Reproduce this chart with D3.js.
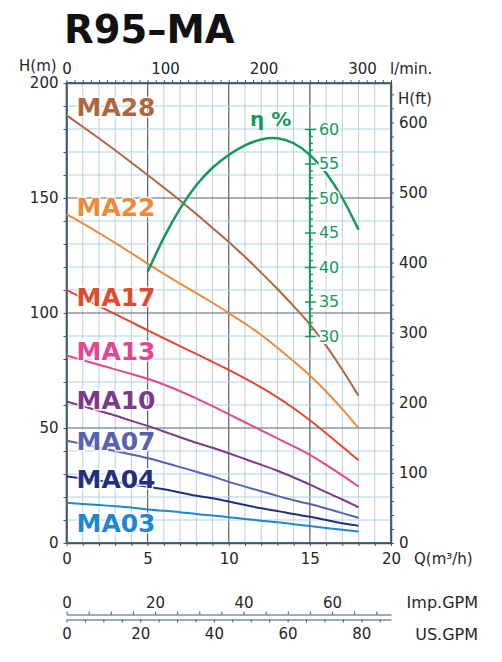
<!DOCTYPE html>
<html lang="en">
<head>
<meta charset="UTF-8">
<title>R95-MA</title>
<script src="https://d3js.org/d3.v7.min.js"></script>
<style>
  body { margin: 0; background: #fff; }
  text { font-family: "DejaVu Sans", "Liberation Sans", Arial, sans-serif; fill: #262626; }
  .axis text { font-size: 15px; }
  .axis line, .axis path { stroke: #3d5a6c; }
</style>
</head>
<body>
<script>
// flow points in m3/h
var flow = [0, 1, 2, 3, 4, 5, 6, 7, 8, 9, 10, 11, 12, 13, 14, 15, 16, 17, 18];

// head in m for each model
var ma28 = [186, 181, 176, 170.8, 165.5, 160, 154.5, 149, 143, 137, 131, 124.5, 117.5, 110.5, 103, 95.3, 86, 75.5, 64];
var ma22 = [143, 139, 134.8, 130.5, 126, 121.5, 117, 112.8, 108.7, 104.5, 100, 95.5, 90.5, 85, 79, 73, 66, 58.3, 50];
var ma17 = [110, 106.5, 103, 99.5, 96, 92.5, 89, 85.6, 82.2, 78.8, 75.3, 71.6, 67.7, 63.4, 58.7, 53.4, 47.7, 41.9, 36];
var ma13 = [81.5, 79.5, 77.5, 75.5, 73.5, 71.5, 69, 66, 63, 59.5, 56, 52.5, 49, 45.5, 42, 38.5, 34, 29.5, 24.5];
var ma10 = [61.5, 59.5, 57.5, 55.5, 53, 51, 48.5, 46, 43.5, 41.5, 39, 36.5, 34, 31.5, 28.5, 25.5, 22, 19, 15.5];
var ma07 = [44.5, 43, 41.5, 40, 38.5, 37, 35, 33, 31, 29, 26.5, 24.5, 22.5, 20.5, 18.5, 17, 15, 13, 11];
var ma04 = [29, 28, 27, 26.5, 25.5, 24.5, 23.5, 22, 20.5, 19.5, 18, 16.5, 15, 14, 12.5, 11.5, 10, 8.5, 7.5];
var ma03 = [17.5, 17, 16.5, 16, 15.5, 14.5, 14, 13.5, 12.5, 12, 11.2, 10.5, 9.7, 9, 8.2, 7.4, 6.5, 5.7, 5];

var models = ["MA28", "MA22", "MA17", "MA13", "MA10", "MA07", "MA04", "MA03"];
var heads = [ma28, ma22, ma17, ma13, ma10, ma07, ma04, ma03];

// efficiency curve
var etaFlow = [5, 6, 7, 8, 9, 10, 11, 12, 13, 14, 15, 16, 17, 18];
var eta = [39.3, 44.4, 48.6, 52, 54.5, 56.3, 57.7, 58.6, 58.8, 58.1, 56.4, 53.8, 50.2, 45.4];

// tick labels
var headTicks = [0, 50, 100, 150, 200];
var flowTicks = [0, 5, 10, 15, 20];
var lminTicks = [0, 100, 200, 300];
var ftTicks = [0, 100, 200, 300, 400, 500, 600];
var etaTicks = [30, 35, 40, 45, 50, 55, 60];
var impTicks = [0, 20, 40, 60];
var usTicks = [0, 20, 40, 60, 80];

var colors = {
    MA28: "#b0653d", MA22: "#ee8a3a", MA17: "#e04a2d", MA13: "#e2488f",
    MA10: "#7c3a88", MA07: "#5862ae", MA04: "#23307b", MA03: "#1f87cf"
};
var green = "#15995a";
// label centre (in m) relative to the curve start
var labelShift = { MA28: 3.6, MA22: 3, MA17: -3, MA13: 2, MA10: 0.5, MA07: 0, MA04: -1, MA03: -9 };

var width = 502, height = 662;
var svg = d3.select("body").append("svg")
    .attr("width", width)
    .attr("height", height);

var x = d3.scaleLinear().domain([0, 20]).range([66.5, 391]);
var y = d3.scaleLinear().domain([0, 200]).range([543, 83]);
var yFt = d3.scaleLinear().domain([0, 200 / 0.3048]).range([543, 83]);
var yEta = d3.scaleLinear().domain([0, 200 / 3]).range([543, 83]);
var xLmin = d3.scaleLinear().domain([0, 300]).range([66.5, 362]);
var xImp = d3.scaleLinear().domain([0, 20 * 3.6662]).range([66.5, 391]);
var xUs = d3.scaleLinear().domain([0, 20 * 4.4029]).range([66.5, 391]);

// title
svg.append("text")
    .attr("x", 64).attr("y", 43)
    .style("font-size", "38.5px").style("font-weight", "bold").style("fill", "#111")
    .text("R95\u2013MA");

// grid
var grid = svg.append("g");
grid.selectAll(".vminor").data(d3.range(0, 21)).enter().append("line")
    .attr("x1", function(d) { return x(d); }).attr("x2", function(d) { return x(d); })
    .attr("y1", y(0)).attr("y2", y(200))
    .attr("stroke", function(d) { return d % 5 === 0 ? "#56626b" : "#b2d2e5"; })
    .attr("stroke-width", function(d) { return d % 5 === 0 ? 1.2 : 1; });
grid.selectAll(".hminor").data(d3.range(0, 201, 10)).enter().append("line")
    .attr("x1", x(0)).attr("x2", x(20))
    .attr("y1", function(d) { return y(d); }).attr("y2", function(d) { return y(d); })
    .attr("stroke", function(d) { return d % 50 === 0 ? "#56626b" : "#b2d2e5"; })
    .attr("stroke-width", function(d) { return d % 50 === 0 ? 1.2 : 1; });
grid.append("rect")
    .attr("x", x(0)).attr("y", y(200))
    .attr("width", x(20) - x(0)).attr("height", y(0) - y(200))
    .attr("fill", "none").attr("stroke", "#3d5a6c").attr("stroke-width", 1.5);

// axes
svg.append("g").attr("class", "axis").attr("transform", "translate(" + x(0) + ",0)")
    .call(d3.axisLeft(y).tickValues(d3.range(0, 201, 10)).tickSize(3).tickPadding(5).tickSizeOuter(0)
        .tickFormat(function(d) { return headTicks.indexOf(d) >= 0 ? d : ""; }));

svg.append("g").attr("class", "axis").attr("transform", "translate(0," + y(0) + ")")
    .call(d3.axisBottom(x).tickValues(d3.range(0, 20.01, 1)).tickSize(3).tickPadding(7).tickSizeOuter(0)
        .tickFormat(function(d) { return flowTicks.indexOf(d) >= 0 ? d : ""; }));

svg.append("g").attr("class", "axis").attr("transform", "translate(0," + y(200) + ")")
    .call(d3.axisTop(x).tickValues(d3.range(0, 20.01, 0.5)).tickSize(3).tickSizeOuter(0).tickFormat(""));
svg.append("g").attr("class", "axis").attr("transform", "translate(0," + y(200) + ")")
    .call(d3.axisTop(xLmin).tickValues(lminTicks).tickSize(0).tickPadding(9.5))
    .select(".domain").remove();

svg.append("g").attr("class", "axis").attr("transform", "translate(" + x(20) + ",0)")
    .call(d3.axisRight(yFt).tickValues(d3.range(0, 641, 20)).tickSize(3).tickPadding(5).tickSizeOuter(0)
        .tickFormat(function(d) { return ftTicks.indexOf(d) >= 0 ? d : ""; }));

svg.selectAll(".axis .domain").attr("stroke-width", 1.5);

// unit labels
var unit = svg.append("g").style("font-size", "15px");
unit.append("text").attr("x", 19).attr("y", 66).attr("dy", "0.35em").text("H(m)");
unit.append("text").attr("x", 390).attr("y", 69).attr("dy", "0.35em").text("l/min.");
unit.append("text").attr("x", 398).attr("y", 99).attr("dy", "0.35em").text("H(ft)");
unit.append("text").attr("x", 414).attr("y", 559).attr("dy", "0.35em").text("Q(m\u00b3/h)");

// pump curves, smoothed through the read points
var line = d3.line()
    .x(function(d) { return x(d[0]); })
    .y(function(d) { return y(d[1]); })
    .curve(d3.curveBasis);

svg.append("g").selectAll("path").data(models).enter().append("path")
    .attr("d", function(m, i) { return line(flow.map(function(q, j) { return [q, heads[i][j]]; })); })
    .attr("fill", "none")
    .attr("stroke", function(m) { return colors[m]; })
    .attr("stroke-width", 2);

// efficiency curve (eta axis is H / 3)
svg.append("path")
    .attr("d", line(etaFlow.map(function(q, j) { return [q, eta[j] * 3]; })))
    .attr("fill", "none").attr("stroke", green).attr("stroke-width", 2.5);

// efficiency axis on Q = 15
var etaG = svg.append("g").attr("transform", "translate(" + x(15) + ",0)");
etaG.append("line")
    .attr("y1", yEta(30)).attr("y2", yEta(60))
    .attr("stroke", green).attr("stroke-width", 2);
etaG.call(d3.axisRight(yEta).tickValues(d3.range(30, 60.01, 1)).tickSize(3).tickPadding(6).tickSizeOuter(0)
    .tickFormat(function(d) { return etaTicks.indexOf(d) >= 0 ? d : ""; }));
etaG.select(".domain").remove();
etaG.selectAll(".tick line").attr("stroke", green).attr("stroke-width", 1.5)
    .attr("x2", function(d) { return etaTicks.indexOf(d) >= 0 ? 6 : 3; })
    .attr("x1", function(d) { return etaTicks.indexOf(d) >= 0 ? -5 : 0; });
etaG.selectAll(".tick text")
    .style("font-size", "16px").style("fill", green)
    .attr("stroke", "#fff").attr("stroke-width", 4).attr("paint-order", "stroke");

svg.append("text")
    .attr("x", 250).attr("y", 119).attr("dy", "0.35em")
    .style("font-size", "20px").style("font-weight", "bold").style("fill", green)
    .text("\u03b7 %");

// model labels
svg.append("g").selectAll("text").data(models).enter().append("text")
    .attr("x", x(0) + 10)
    .attr("y", function(m, i) { return y(heads[i][0] + labelShift[m]); })
    .attr("dy", "0.36em")
    .style("font-size", "25px").style("font-weight", "bold")
    .style("fill", function(m) { return colors[m]; })
    .attr("stroke", "#fff").attr("stroke-width", 3).attr("stroke-opacity", 0.85)
    .attr("paint-order", "stroke")
    .text(function(m) { return m; });

// gallon scales
svg.append("g").attr("class", "axis").attr("transform", "translate(0,614.5)")
    .call(d3.axisTop(xImp).tickValues(d3.range(0, 73.3, 5)).tickSize(3).tickPadding(4).tickSizeOuter(0)
        .tickFormat(function(d) { return impTicks.indexOf(d) >= 0 ? d : ""; }));
svg.append("g").attr("class", "axis").attr("transform", "translate(0,619.5)")
    .call(d3.axisBottom(xUs).tickValues(d3.range(0, 88, 5)).tickSize(3).tickPadding(6).tickSizeOuter(0)
        .tickFormat(function(d) { return usTicks.indexOf(d) >= 0 ? d : ""; }));

var gpm = svg.append("g").style("font-size", "16px").attr("text-anchor", "end");
gpm.append("text").attr("x", 478).attr("y", 602).attr("dy", "0.35em").text("Imp.GPM");
gpm.append("text").attr("x", 478).attr("y", 634).attr("dy", "0.35em").text("US.GPM");
</script>
</body>
</html>
